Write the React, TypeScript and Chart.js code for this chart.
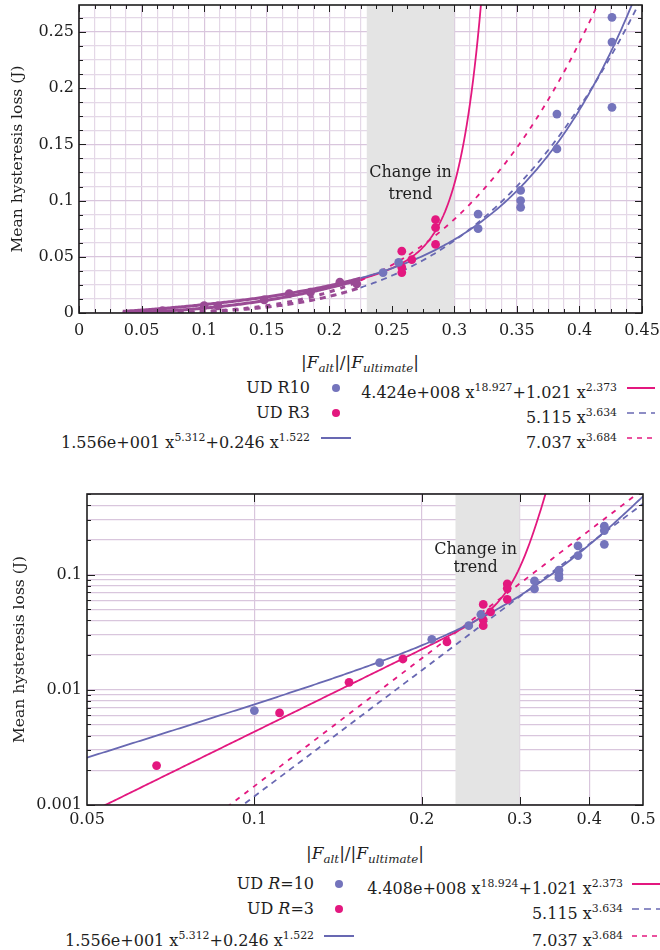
import React, { useEffect, useRef } from 'react';
import { Chart, registerables } from 'chart.js';

Chart.register(...registerables);

const SERIF = '"DejaVu Serif", "Liberation Serif", serif';
const INK = '#1e1e1e';
const BLUE = '#7474bc';
const BLUE_LINE = '#6868b2';
const PINK = '#e3187f';
const BLEND = '#9a4b95';
const BAND = '#e4e4e4';
const GRID = '#d9c6dd';
const GRID_LIGHT = '#e4d8e7';

// Measured mean hysteresis loss against |F_alt|/|F_ultimate|
const r10Ratio = [0.1, 0.168, 0.2085, 0.243, 0.2555, 0.319, 0.319, 0.353, 0.353, 0.353, 0.382, 0.382, 0.426, 0.426, 0.426];
const r10Loss = [0.0066, 0.0172, 0.0274, 0.036, 0.045, 0.088, 0.075, 0.109, 0.1, 0.094, 0.177, 0.146, 0.263, 0.241, 0.183];
const r3Ratio = [0.0667, 0.111, 0.148, 0.185, 0.222, 0.258, 0.258, 0.258, 0.266, 0.285, 0.285, 0.285];
const r3Loss = [0.0022, 0.0063, 0.0116, 0.0185, 0.026, 0.055, 0.0405, 0.036, 0.0475, 0.083, 0.076, 0.061];

// Fitted power laws, each term is [coefficient, exponent]
const r10TwoTermFit = [[15.56, 5.312], [0.246, 1.522]];
const r3TwoTermFitLinear = [[4.424e8, 18.927], [1.021, 2.373]];
const r3TwoTermFitLog = [[4.408e8, 18.924], [1.021, 2.373]];
const r10PowerFit = [[5.115, 3.634]];
const r3PowerFit = [[7.037, 3.684]];

// Axis ranges and labelled ticks
const linXRange = [0, 0.45];
const linYRange = [0, 0.274];
const linMinorStep = 0.0125;
const linXLabels = [0, 0.05, 0.1, 0.15, 0.2, 0.25, 0.3, 0.35, 0.4, 0.45];
const linYLabels = [0, 0.05, 0.1, 0.15, 0.2, 0.25];
const logXRange = [0.05, 0.5];
const logYRange = [0.001, 0.5];
const logXLabels = [0.05, 0.1, 0.2, 0.3, 0.4, 0.5];
const logXGrid = [0.1, 0.2, 0.3, 0.4];
const logYLabels = [0.001, 0.01, 0.1];

// Transition zone
const trendBand = [0.23, 0.3];
const trendText = ['Change in', 'trend'];

// Below this ratio the linear plot shows the overlapping curves in a mixed tint
const blendBelow = 0.225;

const near = (a: number, b: number) =>
  Math.abs(a - b) <= 1e-6 * Math.max(Math.abs(a), Math.abs(b), 1e-9);
const inList = (list: number[], v: number) => list.some((l) => near(l, v));
const labelFrom = (list: number[]) => (v: number | string) => {
  const n = Number(v);
  const hit = list.find((l) => near(l, n));
  return hit === undefined ? '' : String(hit);
};

const evalFit = (terms: number[][], x: number) =>
  terms.reduce((s, [c, e]) => s + c * Math.pow(x, e), 0);

function linearSteps(lo: number, hi: number, step: number) {
  const out: number[] = [];
  const n = Math.round((hi - lo) / step);
  for (let i = 0; i <= n; i++) out.push(Math.round((lo + i * step) * 1e6) / 1e6);
  return out;
}

function logSteps(lo: number, hi: number) {
  const out: number[] = [];
  let decade = Math.pow(10, Math.floor(Math.log10(lo) + 1e-9));
  while (decade <= hi * 1.0001) {
    for (let m = 1; m <= 9; m++) {
      const v = Math.round(m * decade * 1e9) / 1e9;
      if (v >= lo * 0.9999 && v <= hi * 1.0001) out.push(v);
    }
    decade *= 10;
  }
  return out;
}

const isDecade = (v: number) => near(Math.log10(v), Math.round(Math.log10(v)));
const isLinMajor = (v: number) => near(v / 0.05, Math.round(v / 0.05)) || Math.abs(v) < 1e-9;

// x positions where the fitted curves are evaluated
const linCurveX = linearSteps(0.035, 0.45, 0.00125);
const logCurveX: number[] = [];
for (let i = 0; i <= 240; i++) logCurveX.push(logXRange[0] * Math.pow(10, i / 240));

function curve(terms: number[][], xs: number[], color: string, dash: number[], blend = false) {
  const ds: any = {
    data: xs.map((x) => ({ x, y: evalFit(terms, x) })),
    showLine: true,
    borderColor: color,
    borderWidth: 1.8,
    borderDash: dash,
    pointRadius: 0,
    fill: false,
  };
  if (blend) {
    ds.segment = {
      borderColor: (c: any) => (c.p0.parsed.x < blendBelow ? BLEND : undefined),
      borderWidth: (c: any) => (c.p0.parsed.x < blendBelow ? 3 : undefined),
    };
  }
  return ds;
}

function points(xs: number[], ys: number[], color: string, blend = false) {
  return {
    data: xs.map((x, i) => ({ x, y: ys[i] })),
    showLine: false,
    pointRadius: 4.4,
    pointBackgroundColor: blend
      ? (c: any) => (c.raw && c.raw.x < blendBelow ? BLEND : color)
      : color,
    pointBorderWidth: 0,
  };
}

function makeTrendPlugin(textX: number, textY: number[]) {
  return {
    id: 'trendBand',
    beforeDatasetsDraw(chart: any) {
      const { ctx, chartArea: a, scales } = chart;
      const l = scales.x.getPixelForValue(trendBand[0]);
      const r = scales.x.getPixelForValue(trendBand[1]);
      ctx.save();
      ctx.fillStyle = BAND;
      ctx.fillRect(l, a.top, r - l, a.bottom - a.top);
      ctx.fillStyle = INK;
      ctx.font = `16px ${SERIF}`;
      ctx.textAlign = 'center';
      ctx.textBaseline = 'middle';
      const cx = scales.x.getPixelForValue(textX);
      trendText.forEach((t, i) => ctx.fillText(t, cx, scales.y.getPixelForValue(textY[i])));
      ctx.restore();
    },
  };
}

function makeFramePlugin(xLen: (v: number) => number, yLen: (v: number) => number) {
  return {
    id: 'frameTicks',
    afterDraw(chart: any) {
      const { ctx, chartArea: a, scales } = chart;
      ctx.save();
      ctx.strokeStyle = INK;
      ctx.lineWidth = 1;
      ctx.beginPath();
      scales.x.ticks.forEach((t: any) => {
        const len = xLen(t.value);
        if (!len) return;
        const p = Math.round(scales.x.getPixelForValue(t.value)) + 0.5;
        ctx.moveTo(p, a.bottom);
        ctx.lineTo(p, a.bottom - len);
        ctx.moveTo(p, a.top);
        ctx.lineTo(p, a.top + len);
      });
      scales.y.ticks.forEach((t: any) => {
        const len = yLen(t.value);
        if (!len) return;
        const p = Math.round(scales.y.getPixelForValue(t.value)) + 0.5;
        ctx.moveTo(a.left, p);
        ctx.lineTo(a.left + len, p);
        ctx.moveTo(a.right, p);
        ctx.lineTo(a.right - len, p);
      });
      ctx.stroke();
      ctx.lineWidth = 1.6;
      ctx.strokeRect(a.left, a.top, a.right - a.left, a.bottom - a.top);
      ctx.restore();
    },
  };
}

const tickFont = { family: SERIF, size: 16 };
const titleFont = { family: SERIF, size: 15.5 };

function linearConfig(): any {
  return {
    type: 'scatter',
    data: {
      datasets: [
        points(r10Ratio, r10Loss, BLUE, true),
        points(r3Ratio, r3Loss, PINK, true),
        curve(r10TwoTermFit, linCurveX, BLUE_LINE, [], true),
        curve(r3TwoTermFitLinear, linCurveX, PINK, [], true),
        curve(r10PowerFit, linCurveX, BLUE_LINE, [6, 5], true),
        curve(r3PowerFit, linCurveX, PINK, [5, 6], true),
      ],
    },
    options: {
      animation: false,
      responsive: false,
      events: [],
      layout: { padding: { top: 5, right: 18, left: 0, bottom: 0 } },
      plugins: { legend: { display: false }, tooltip: { enabled: false } },
      scales: {
        x: {
          type: 'linear',
          bounds: 'data',
          min: linXRange[0],
          max: linXRange[1],
          afterBuildTicks: (s: any) => {
            s.ticks = linearSteps(linXRange[0], linXRange[1], linMinorStep).map((value) => ({ value }));
          },
          afterFit: (s: any) => {
            s.height = 32;
            s.paddingLeft = 0;
            s.paddingRight = 0;
          },
          ticks: { autoSkip: false, maxRotation: 0, minRotation: 0, padding: 8, color: INK, font: tickFont, callback: labelFrom(linXLabels) },
          grid: { drawTicks: false, lineWidth: 1.2, color: (c: any) => (c.tick && isLinMajor(c.tick.value) ? GRID : GRID_LIGHT) },
          border: { display: false },
        },
        y: {
          type: 'linear',
          bounds: 'data',
          min: linYRange[0],
          max: linYRange[1],
          afterBuildTicks: (s: any) => {
            s.ticks = linearSteps(0, 0.2625, linMinorStep).map((value) => ({ value }));
          },
          afterFit: (s: any) => {
            s.width = 79;
            s.paddingTop = 0;
            s.paddingBottom = 0;
          },
          ticks: { autoSkip: false, padding: 5, color: INK, font: tickFont, callback: labelFrom(linYLabels) },
          grid: { drawTicks: false, lineWidth: 1.2, color: (c: any) => (c.tick && isLinMajor(c.tick.value) ? GRID : GRID_LIGHT) },
          border: { display: false },
          title: { display: true, text: 'Mean hysteresis loss (J)', color: INK, font: titleFont, padding: { top: 9, bottom: 0 } },
        },
      },
    },
    plugins: [
      makeTrendPlugin(0.265, [0.1245, 0.105]),
      makeFramePlugin(
        (v) => (isLinMajor(v) ? 7 : 4),
        (v) => (isLinMajor(v) ? 7 : 4),
      ),
    ],
  };
}

function logConfig(): any {
  return {
    type: 'scatter',
    data: {
      datasets: [
        points(r10Ratio, r10Loss, BLUE),
        points(r3Ratio, r3Loss, PINK),
        curve(r10TwoTermFit, logCurveX, BLUE_LINE, []),
        curve(r3TwoTermFitLog, logCurveX, PINK, []),
        curve(r10PowerFit, logCurveX, BLUE_LINE, [6, 5]),
        curve(r3PowerFit, logCurveX, PINK, [5, 6]),
      ],
    },
    options: {
      animation: false,
      responsive: false,
      events: [],
      layout: { padding: { top: 14, right: 17, left: 0, bottom: 0 } },
      plugins: { legend: { display: false }, tooltip: { enabled: false } },
      scales: {
        x: {
          type: 'logarithmic',
          min: logXRange[0],
          max: logXRange[1],
          afterBuildTicks: (s: any) => {
            s.ticks = logSteps(logXRange[0], logXRange[1]).map((value) => ({ value }));
          },
          afterFit: (s: any) => {
            s.height = 35;
            s.paddingLeft = 0;
            s.paddingRight = 0;
          },
          ticks: { autoSkip: false, maxRotation: 0, minRotation: 0, padding: 5, color: INK, font: tickFont, callback: labelFrom(logXLabels) },
          grid: { drawTicks: false, lineWidth: 1.2, color: (c: any) => (c.tick && inList(logXGrid, c.tick.value) ? GRID : 'rgba(0,0,0,0)') },
          border: { display: false },
        },
        y: {
          type: 'logarithmic',
          min: logYRange[0],
          max: logYRange[1],
          afterBuildTicks: (s: any) => {
            s.ticks = logSteps(logYRange[0], logYRange[1]).map((value) => ({ value }));
          },
          afterFit: (s: any) => {
            s.width = 87;
            s.paddingTop = 0;
            s.paddingBottom = 0;
          },
          ticks: { autoSkip: false, padding: 5, color: INK, font: tickFont, callback: labelFrom(logYLabels) },
          grid: { drawTicks: false, lineWidth: 1.2, color: GRID },
          border: { display: false },
          title: { display: true, text: 'Mean hysteresis loss (J)', color: INK, font: titleFont, padding: { top: 11, bottom: 0 } },
        },
      },
    },
    plugins: [
      makeTrendPlugin(0.25, [0.164, 0.115]),
      makeFramePlugin(
        (v) => (inList(logXGrid, v) ? 8 : 0),
        (v) => (isDecade(v) ? 8 : 4),
      ),
    ],
  };
}

function ChartCanvas({ width, height, config }: { width: number; height: number; config: () => any }) {
  const ref = useRef<HTMLCanvasElement>(null);
  useEffect(() => {
    const chart = new Chart(ref.current as HTMLCanvasElement, config());
    return () => chart.destroy();
  }, []);
  return <canvas ref={ref} width={width} height={height} style={{ display: 'block', width, height }} />;
}

const Sup = ({ children }: { children: React.ReactNode }) => (
  <span style={{ fontSize: '0.68em', verticalAlign: '0.6em' }}>{children}</span>
);

function coefText(c: number) {
  if (c >= 10) {
    const e = Math.floor(Math.log10(c));
    return `${(c / Math.pow(10, e)).toFixed(3)}e+${String(e).padStart(3, '0')}`;
  }
  return c.toFixed(3);
}

function FitLabel({ terms }: { terms: number[][] }) {
  return (
    <>
      {terms.map(([c, e], i) => (
        <React.Fragment key={i}>
          {i > 0 ? '+' : ''}
          {coefText(c)} x<Sup>{e.toFixed(3)}</Sup>
        </React.Fragment>
      ))}
    </>
  );
}

type Sample = { kind: 'dot' | 'line' | 'dash'; color: string; dash?: string };
type Entry = { label: React.ReactNode; right: number; y: number; sx: number; sw: number; sample: Sample };

function LegendEntry({ e }: { e: Entry }) {
  const { label, right, y, sx, sw, sample } = e;
  return (
    <>
      <div
        style={{
          position: 'absolute',
          right: 660 - right,
          top: y - 12,
          lineHeight: '24px',
          fontSize: 16,
          whiteSpace: 'nowrap',
        }}
      >
        {label}
      </div>
      {sample.kind === 'dot' ? (
        <div
          style={{
            position: 'absolute',
            left: sx - 4.3,
            top: y - 4.3,
            width: 8.6,
            height: 8.6,
            borderRadius: '50%',
            background: sample.color,
          }}
        />
      ) : (
        <svg style={{ position: 'absolute', left: sx - sw / 2, top: y - 3 }} width={sw} height={6}>
          <line
            x1={0}
            y1={3}
            x2={sw}
            y2={3}
            stroke={sample.color}
            strokeWidth={sample.kind === 'line' ? 2 : 1.6}
            strokeDasharray={sample.dash}
          />
        </svg>
      )}
    </>
  );
}

function AxisTitle({ cx, cy }: { cx: number; cy: number }) {
  return (
    <div
      style={{
        position: 'absolute',
        left: cx - 150,
        width: 300,
        top: cy - 12,
        lineHeight: '24px',
        textAlign: 'center',
        fontSize: 17,
        whiteSpace: 'nowrap',
      }}
    >
      |<i>F</i>
      <sub style={{ fontSize: '0.7em' }}>
        <i>alt</i>
      </sub>
      |/|<i>F</i>
      <sub style={{ fontSize: '0.7em' }}>
        <i>ultimate</i>
      </sub>
      |
    </div>
  );
}

function legendEntries(rows: number[], leftRight: number, leftSample: number, rightRight: number, rightSample: number, r3Fit: number[][], italicR: boolean): Entry[] {
  const name = (n: number) =>
    italicR ? (
      <>
        UD <i>R</i>={n}
      </>
    ) : (
      <>UD R{n}</>
    );
  return [
    { label: name(10), right: leftRight, y: rows[0], sx: leftSample, sw: 0, sample: { kind: 'dot', color: BLUE } },
    { label: name(3), right: leftRight, y: rows[1], sx: leftSample, sw: 0, sample: { kind: 'dot', color: PINK } },
    { label: <FitLabel terms={r10TwoTermFit} />, right: leftRight, y: rows[2], sx: leftSample, sw: 30, sample: { kind: 'line', color: BLUE_LINE } },
    { label: <FitLabel terms={r3Fit} />, right: rightRight, y: rows[0], sx: rightSample, sw: 28, sample: { kind: 'line', color: PINK } },
    { label: <FitLabel terms={r10PowerFit} />, right: rightRight, y: rows[1], sx: rightSample, sw: 28, sample: { kind: 'dash', color: BLUE_LINE, dash: '7 5' } },
    { label: <FitLabel terms={r3PowerFit} />, right: rightRight, y: rows[2], sx: rightSample, sw: 28, sample: { kind: 'dash', color: PINK, dash: '5 5' } },
  ];
}

const topLegend = legendEntries([388, 413, 438], 310, 336, 617, 641, r3TwoTermFitLinear, false);
const bottomLegend = legendEntries([884, 909, 936], 314, 339, 623, 646, r3TwoTermFitLog, true);

export default function App() {
  return (
    <div
      style={{
        position: 'absolute',
        left: 0,
        top: 0,
        width: 660,
        height: 950,
        background: '#fff',
        overflow: 'hidden',
        fontFamily: SERIF,
        color: INK,
      }}
    >
      <div style={{ position: 'absolute', left: 0, top: 0 }}>
        <ChartCanvas width={660} height={345} config={linearConfig} />
      </div>
      <AxisTitle cx={360} cy={362} />
      {topLegend.map((e, i) => (
        <LegendEntry key={i} e={e} />
      ))}
      <div style={{ position: 'absolute', left: 0, top: 480 }}>
        <ChartCanvas width={660} height={360} config={logConfig} />
      </div>
      <AxisTitle cx={365} cy={853} />
      {bottomLegend.map((e, i) => (
        <LegendEntry key={`b${i}`} e={e} />
      ))}
    </div>
  );
}
